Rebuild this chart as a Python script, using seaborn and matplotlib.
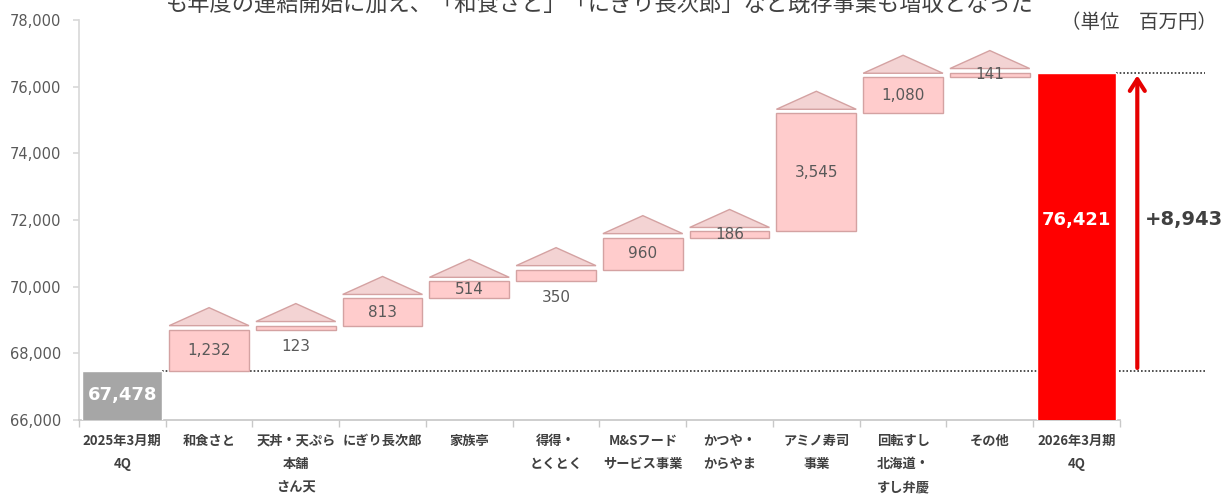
import matplotlib
matplotlib.use("Agg")
import matplotlib.pyplot as plt
from matplotlib.patches import Polygon
from matplotlib.ticker import FuncFormatter, FixedLocator
import numpy as np
import pandas as pd
import seaborn as sns

# ---- data ----
categories = ["2025年3月期\n4Q", "和食さと", "天丼・天ぷら\n本舗\nさん天", "にぎり長次郎", "家族亭",
              "得得・\nとくとく", "M&Sフード\nサービス事業", "かつや・\nからやま", "アミノ寿司\n事業",
              "回転すし\n北海道・\nすし弁慶", "その他", "2026年3月期\n4Q"]
start_value = 67478
increments = [1232, 123, 813, 514, 350, 960, 186, 3545, 1080, 141]
end_value = 76421
diff_label = "+8,943"
label_place = ["in", "below", "in", "in", "below", "in", "in", "in", "in", "in"]
title_text = "も年度の連結開始に加え、「和食さと」「にぎり長次郎」など既存事業も増収となった"
unit_text = "（単位　百万円）"

sns.set_theme(style="white")
plt.rcParams['font.family'] = ['DejaVu Sans', 'Noto Sans CJK JP']

fig = plt.figure(figsize=(12.26, 4.99), dpi=100)
ax = fig.add_axes([0.0644, 0.1583, 0.8491, 0.8017])

# totals via seaborn
totals = [start_value] + [np.nan] * len(increments) + [end_value]
df = pd.DataFrame({"cat": categories, "val": totals,
                   "kind": ["start"] + ["inc"] * len(increments) + ["end"]})
sns.barplot(data=df, x="cat", y="val", hue="kind", order=categories,
            palette={"start": "#a6a6a6", "inc": "#ffcccc", "end": "#ff0000"},
            width=0.92, legend=False, ax=ax, zorder=3, saturation=1)

# increments
bottoms = start_value + np.concatenate([[0], np.cumsum(increments)[:-1]])
xs = np.arange(1, len(increments) + 1)
w = 0.92
ax.bar(xs, increments, bottom=bottoms, width=w, color="#ffcccc",
       edgecolor="#d4a2a2", linewidth=1.0, zorder=3)

tri_gap, tri_h = 120, 540
for x, b, v, p in zip(xs, bottoms, increments, label_place):
    top = b + v
    tri = Polygon([[x - w / 2, top + tri_gap], [x + w / 2, top + tri_gap], [x, top + tri_gap + tri_h]],
                  closed=True, facecolor="#f3d3d3", edgecolor="#d4a2a2", linewidth=1.0, zorder=3)
    ax.add_patch(tri)
    if p == "in":
        ty = b + v / 2
    else:
        ty = b - 500
    ax.text(x, ty, f"{v:,}", ha="center", va="center", fontsize=11, color="#595959", zorder=5)

# totals labels
ax.text(0, 66000 + (start_value - 66000) / 2, f"{start_value:,}", ha="center", va="center",
        fontsize=13, color="white", fontweight="bold", zorder=5)
ax.text(len(categories) - 1, 72000, f"{end_value:,}", ha="center", va="center",
        fontsize=13, color="white", fontweight="bold", zorder=5)

# dotted reference lines
ax.plot([0.46, 12.48], [start_value, start_value], linestyle=(0, (1, 1.2)), color="#333333",
        lw=1.2, zorder=2, clip_on=False)
ax.plot([11.46, 12.48], [end_value, end_value], linestyle=(0, (1, 1.2)), color="#333333",
        lw=1.2, zorder=2, clip_on=False)

# arrow
ax.annotate("", xy=(11.7, end_value), xytext=(11.7, start_value),
            arrowprops=dict(arrowstyle="->,head_length=0.7,head_width=0.45", color="#e60000", lw=3),
            annotation_clip=False, zorder=4)
ax.text(11.79, 72000, diff_label, ha="left", va="center", fontsize=14, fontweight="bold",
        color="#404040", clip_on=False)

# axes styling
ax.set_ylim(66000, 78000)
ax.set_xlim(-0.5, len(categories) - 0.5)
ax.set_yticks(np.arange(66000, 78001, 2000))
ax.yaxis.set_major_formatter(FuncFormatter(lambda v, _: f"{int(v):,}"))
ax.set_xlabel("")
ax.set_ylabel("")
for s in ["top", "right"]:
    ax.spines[s].set_visible(False)
ax.spines["left"].set_color("#d9d9d9")
ax.spines["bottom"].set_color("#c8c8c8")
ax.tick_params(axis="y", labelsize=10.5, labelcolor="#595959", length=4, color="#d9d9d9",
               direction="out", left=True, pad=9)
ax.tick_params(axis="x", which="major", length=0, pad=10)
ax.xaxis.set_minor_locator(FixedLocator(np.arange(-0.5, len(categories), 1.0)))
ax.tick_params(axis="x", which="minor", length=5, color="#c8c8c8", direction="out", bottom=True)
ax.set_xticks(range(len(categories)))
ax.set_xticklabels(categories, fontsize=9.5, fontweight="bold", color="#404040",
                   linespacing=1.85, va="top", family=['Noto Sans CJK JP', 'DejaVu Sans'])

fig.text(0.135, 0.992, title_text, ha="left", va="center", fontsize=16, color="#404040",
         family=['Noto Sans CJK JP', 'DejaVu Sans'])
fig.text(0.993, 0.955, unit_text, ha="right", va="center", fontsize=14, color="#404040",
         family=['Noto Sans CJK JP', 'DejaVu Sans'])

fig.savefig("out.png", dpi=100)
